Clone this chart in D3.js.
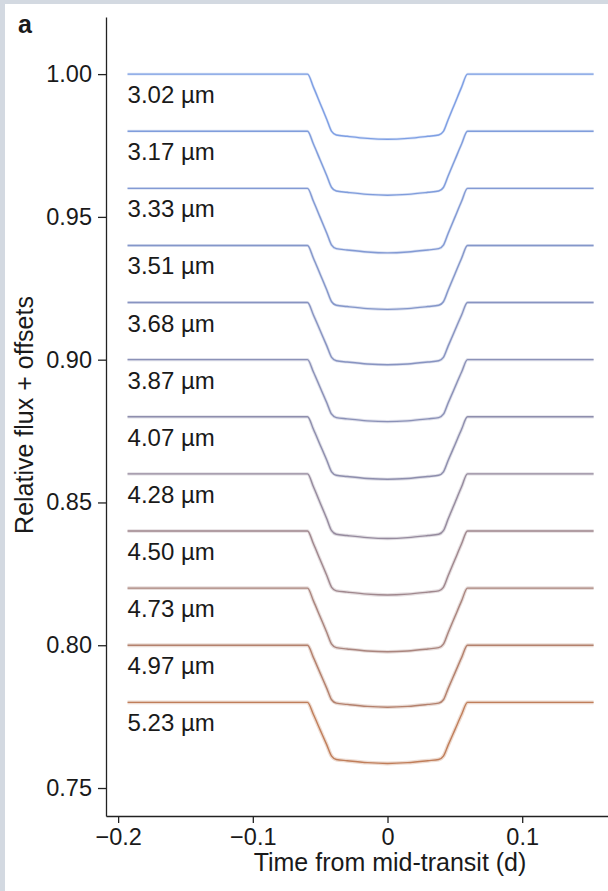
<!DOCTYPE html>
<html><head><meta charset="utf-8">
<script src="https://cdn.jsdelivr.net/npm/d3@7/dist/d3.min.js"></script>
<style>body{margin:0;background:#fff}svg{display:block}text{font-family:"Liberation Sans",Arial,Helvetica,sans-serif;fill:#1a1a1a}</style>
</head><body>
<script>
// ---- data ----
const wavelengths = ["3.02","3.17","3.33","3.51","3.68","3.87","4.07","4.28","4.50","4.73","4.97","5.23"];
const offsets = [1.00,0.98,0.96,0.94,0.92,0.90,0.88,0.86,0.84,0.82,0.80,0.78];
const depths = [0.0228,0.0224,0.0226,0.0224,0.0218,0.0217,0.0219,0.0226,0.0224,0.0223,0.0217,0.0214];
// time samples (d) and normalised transit profile
const times   = [-0.193,-0.0594,-0.055,-0.05,-0.045,-0.0415,-0.038,-0.03,-0.015,0,0.015,0.03,0.038,0.0415,0.045,0.05,0.055,0.0594,0.153];
const profile = [0,0,0.2,0.45,0.7,0.88,0.935,0.955,0.987,1,0.987,0.955,0.935,0.88,0.7,0.45,0.2,0,0];
const yTicks = [0.75,0.80,0.85,0.90,0.95,1.00];
const xTicks = [-0.2,-0.1,0,0.1];

const W=608,H=891;
const svg=d3.select("body").append("svg").attr("width",W).attr("height",H);
svg.append("rect").attr("width",W).attr("height",H).attr("fill","#d3d9e1");
svg.append("rect").attr("x",5).attr("y",4).attr("width",W-5).attr("height",H-4).attr("fill","#fff");

const x=d3.scaleLinear().domain([-0.209,0.1637]).range([106,608]);
const y=d3.scaleLinear().domain([0.7402,1.02]).range([816,17]);
const wl=wavelengths.map(Number);
const color=d3.scaleLinear().domain([3.02,4.1,5.23]).range(["#7e9fe4","#8e8dab","#c07e5a"]);

const line=d3.line().x(d=>x(d[0])).y(d=>y(d[1])).curve(d3.curveMonotoneX);
wavelengths.forEach((w,i)=>{
  const pts=times.map((t,k)=>[t,offsets[i]-depths[i]*profile[k]]);
  const c=color(wl[i]);
  svg.append("path").attr("d",line(pts)).attr("fill","none").attr("stroke",c)
    .attr("stroke-width",2.6+i*0.12).attr("stroke-opacity",0.28).attr("stroke-linejoin","round");
  svg.append("path").attr("d",line(pts)).attr("fill","none").attr("stroke",c)
    .attr("stroke-width",1.4).attr("stroke-linejoin","round");
  svg.append("text").attr("x",x(times[0])).attr("y",y(offsets[i])+29)
    .attr("font-size",24).text(w+" µm");
});

const ya=svg.append("g").attr("transform","translate(106,0)")
  .call(d3.axisLeft(y).tickValues(yTicks).tickFormat(d3.format(".2f")).tickSize(8).tickPadding(6).tickSizeOuter(0));
const xa=svg.append("g").attr("transform","translate(0,816)")
  .call(d3.axisBottom(x).tickValues(xTicks).tickFormat(d=>d===0?"0":d3.format(".1f")(d)).tickSize(7).tickPadding(5).tickSizeOuter(0));
[ya,xa].forEach(g=>{
  g.selectAll("path,line").attr("stroke","#222").attr("stroke-width",1.3);
  g.selectAll("text").attr("font-size",23.5).attr("fill","#1a1a1a").attr("font-family","'Liberation Sans',Arial,sans-serif");
});

svg.append("text").attr("x",18).attr("y",33).attr("font-size",25).attr("font-weight","bold").text("a");
svg.append("text").attr("transform","translate(33,415) rotate(-90)").attr("text-anchor","middle")
  .attr("font-size",25).text("Relative flux + offsets");
svg.append("text").attr("x",390).attr("y",871).attr("text-anchor","middle")
  .attr("font-size",25).text("Time from mid-transit (d)");
</script>
</body></html>
